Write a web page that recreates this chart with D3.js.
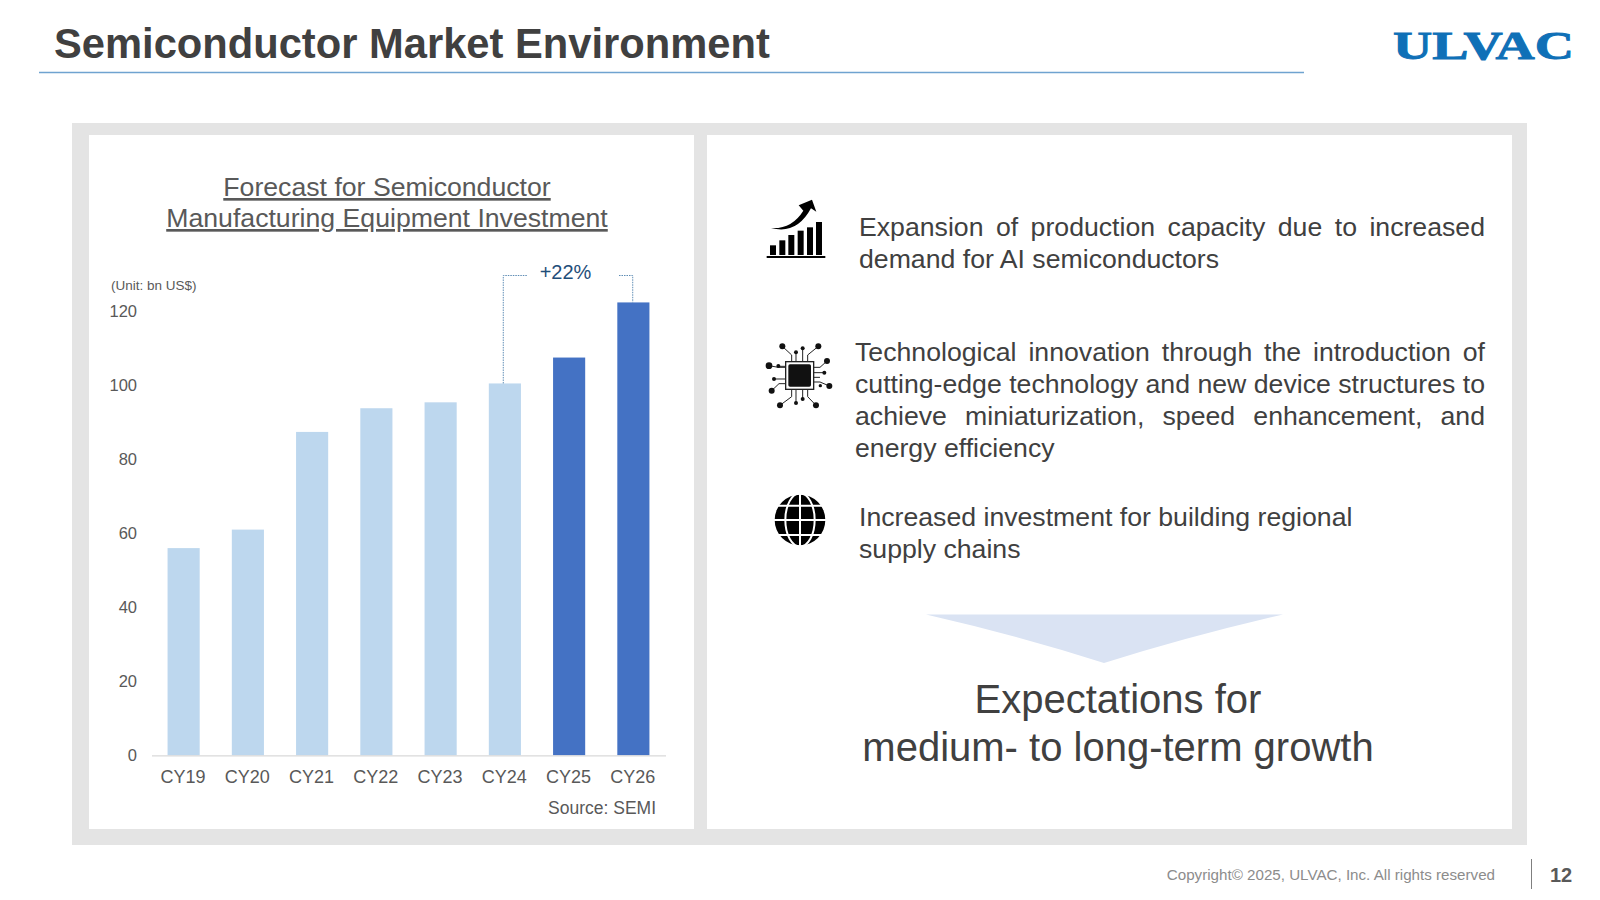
<!DOCTYPE html>
<html>
<head>
<meta charset="utf-8">
<script src="https://cdn.jsdelivr.net/npm/d3@7"></script>
<style>
  html, body { margin: 0; padding: 0; background: #fff; }
  svg { display: block; }
  text { font-family: "Liberation Sans", Arial, sans-serif; fill: #404040; }
</style>
</head>
<body>
<svg id="slide" width="1600" height="900"></svg>
<script>
// chart values
const years = ["CY19", "CY20", "CY21", "CY22", "CY23", "CY24", "CY25", "CY26"];
const investment = [56, 61, 87.4, 93.8, 95.4, 100.5, 107.5, 122.4];
const forecastYears = ["CY25", "CY26"];
const yTicks = [0, 20, 40, 60, 80, 100, 120];

const chartTitle = ["Forecast for Semiconductor", "Manufacturing Equipment Investment"];
const para1 = ["Expansion of production capacity due to increased", "demand for AI semiconductors"];
const para2 = [
  "Technological innovation through the introduction of",
  "cutting-edge technology and new device structures to",
  "achieve miniaturization, speed enhancement, and",
  "energy efficiency"
];
const para3 = ["Increased investment for building regional", "supply chains"];
const conclusion = ["Expectations for", "medium- to long-term growth"];

let svg = d3.select("#slide");

// header
svg.append("text").attr("x", 54).attr("y", 57.5)
  .attr("font-size", 41.7).attr("font-weight", "bold")
  .text("Semiconductor Market Environment");
svg.append("line").attr("x1", 39).attr("x2", 1304).attr("y1", 72.5).attr("y2", 72.5)
  .attr("stroke", "#6fa3d0").attr("stroke-width", 1.5);
svg.append("text").attr("x", 1393).attr("y", 58.5)
  .attr("textLength", 181).attr("lengthAdjust", "spacingAndGlyphs")
  .attr("font-size", 41).attr("font-weight", "bold")
  .style("font-family", '"Liberation Serif", serif').style("fill", "#0f70b7")
  .style("stroke", "#0f70b7").style("stroke-width", 0.9)
  .text("ULVAC");

// panels
svg.append("rect").attr("x", 72).attr("y", 123).attr("width", 1455).attr("height", 722).attr("fill", "#e4e4e4");
svg.append("rect").attr("x", 89).attr("y", 135).attr("width", 605).attr("height", 694).attr("fill", "#fff");
svg.append("rect").attr("x", 707).attr("y", 135).attr("width", 805).attr("height", 694).attr("fill", "#fff");

// chart
let x = d3.scaleBand().domain(years).range([151.5, 665.5]).paddingInner(0.5).paddingOuter(0.25);
let y = d3.scaleLinear().domain([0, 120]).range([755.3, 311.3]);

svg.append("g").selectAll("rect").data(years).join("rect")
  .attr("x", d => x(d))
  .attr("width", x.bandwidth())
  .attr("y", (d, i) => y(investment[i]))
  .attr("height", (d, i) => y(0) - y(investment[i]))
  .attr("fill", d => forecastYears.includes(d) ? "#4472c4" : "#bdd7ee");

let xAxis = svg.append("g").attr("transform", `translate(0,${y(0)})`)
  .call(d3.axisBottom(x).tickSize(0).tickPadding(15));
xAxis.select(".domain").attr("stroke", "#d9d9d9").attr("stroke-width", 1.2);
xAxis.selectAll("text").attr("font-size", 18).attr("dx", -0.7).style("font-family", '"Liberation Sans"').style("fill", "#595959");

let yAxis = svg.append("g").attr("transform", "translate(137,0)")
  .call(d3.axisLeft(y).tickValues(yTicks).tickSize(0).tickPadding(0));
yAxis.select(".domain").remove();
yAxis.selectAll("text").attr("font-size", 16.5).style("font-family", '"Liberation Sans"').style("fill", "#595959");

svg.append("text").attr("x", 111).attr("y", 290).attr("font-size", 13.5).style("fill", "#595959").text("(Unit: bn US$)");
svg.append("text").attr("x", 656).attr("y", 814).attr("font-size", 17.5).attr("text-anchor", "end").style("fill", "#595959").text("Source: SEMI");

chartTitle.forEach((t, i) => {
  svg.append("text").attr("x", 387).attr("y", 196 + i * 31)
    .attr("font-size", 26.67).attr("text-anchor", "middle")
    .style("fill", "#595959").style("text-decoration", "underline").text(t);
});

// +22% bracket
let xLeft = x("CY24") + x.bandwidth() * 0.45;
let xRight = x("CY26") + x.bandwidth() * 0.48;
let bracketY = 275.5;
let bracket = d3.line();
[
  [[xLeft, y(investment[5])], [xLeft, bracketY], [527, bracketY]],
  [[619, bracketY], [xRight, bracketY], [xRight, y(investment[7])]]
].forEach(pts => {
  svg.append("path").attr("d", bracket(pts)).attr("fill", "none")
    .attr("stroke", "#5f8db5").attr("stroke-width", 1).attr("stroke-dasharray", "1.5 1");
});
svg.append("text").attr("x", 565.5).attr("y", 279).attr("font-size", 20).attr("text-anchor", "middle")
  .style("fill", "#1f4e79").text("+22%");

// right hand text, justified lines get extra word spacing
function paragraph(lines, left, right, baselines, justified) {
  lines.forEach((t, i) => {
    let el = svg.append("text").attr("x", left).attr("y", baselines[i]).attr("font-size", 26.67).text(t);
    if (justified[i]) {
      let gap = right - left - el.node().getComputedTextLength();
      el.attr("word-spacing", gap / (t.split(" ").length - 1));
    }
  });
}
paragraph(para1, 859, 1485, [236, 268], [true, false]);
paragraph(para2, 855, 1485, [361, 393, 425, 457], [true, true, true, false]);
paragraph(para3, 859, 1485, [526, 558], [false, false]);

// down arrow
svg.append("path").attr("d", "M926,614.5 L1283,614.5 Q1190,636 1104,663 Q1020,636 926,614.5 Z").attr("fill", "#dae3f3");

conclusion.forEach((t, i) => {
  svg.append("text").attr("x", 1118).attr("y", 713 + i * 48)
    .attr("font-size", 40).attr("text-anchor", "middle").text(t);
});

// footer
svg.append("text").attr("x", 1495).attr("y", 880).attr("font-size", 15.17).attr("text-anchor", "end")
  .style("fill", "#8c8c8c").text("Copyright© 2025, ULVAC, Inc. All rights reserved");
svg.append("line").attr("x1", 1531.5).attr("x2", 1531.5).attr("y1", 859).attr("y2", 889)
  .attr("stroke", "#7f7f7f").attr("stroke-width", 1);
svg.append("text").attr("x", 1550).attr("y", 882).attr("font-size", 20).attr("font-weight", "bold")
  .style("fill", "#595959").text("12");

// growth icon, drawn in the 3x zoom coordinates
let growth = svg.append("g").attr("transform", "translate(750,190) scale(0.3333)");
[[60, 166], [88, 151], [115, 135], [143, 122], [171, 112], [198, 96]].forEach(b => {
  growth.append("rect").attr("x", b[0]).attr("y", b[1]).attr("width", 18).attr("height", 195 - b[1]).attr("fill", "#000");
});
growth.append("rect").attr("x", 50).attr("y", 198).attr("width", 176).attr("height", 6).attr("fill", "#000");
growth.append("path").attr("d", "M63,114 Q125,118 160,62 L146,46 L186,29 L199,65 L183,55 Q140,135 63,114 Z").attr("fill", "#000");

// chip icon
let chip = svg.append("g").attr("transform", "translate(755,335) scale(0.3333)");
let traces = [
  "M110,80 V60 L82,34", "M123,80 V52", "M143,80 V40", "M158,80 V60 L190,34",
  "M176,97 H195 L216,78", "M176,113 H208", "M176,127 H195", "M176,141 H195 L223,153",
  "M92,97 H70 L42,92", "M92,94 H70", "M92,132 H57", "M92,146 H72 L50,167",
  "M110,163 V185 L75,211", "M123,163 V204", "M143,163 V192", "M158,163 V185 L183,211"
];
traces.forEach(d => {
  chip.append("path").attr("d", d).attr("fill", "none").attr("stroke", "#222").attr("stroke-width", 3);
});
[[82, 34, 9], [123, 52, 6], [143, 40, 6], [190, 34, 9], [216, 78, 9], [208, 113, 6],
 [223, 153, 9], [196, 152, 5], [42, 92, 10], [70, 93, 6], [57, 132, 6], [50, 167, 9],
 [75, 211, 9], [123, 204, 6], [143, 192, 6], [183, 211, 9]].forEach(c => {
  chip.append("circle").attr("cx", c[0]).attr("cy", c[1]).attr("r", c[2]).attr("fill", "#111");
});
chip.append("rect").attr("x", 92).attr("y", 80).attr("width", 84).attr("height", 83).attr("fill", "#fff").attr("stroke", "#222").attr("stroke-width", 4);
chip.append("rect").attr("x", 100).attr("y", 88).attr("width", 68).attr("height", 67).attr("rx", 5).attr("fill", "#111");

// globe icon
let globe = svg.append("g").attr("transform", "translate(760,485) scale(0.3333)");
globe.append("circle").attr("cx", 120).attr("cy", 105).attr("r", 76).attr("fill", "#000");
let globeLines = globe.append("g").attr("fill", "none").attr("stroke", "#fff").attr("stroke-width", 6);
globeLines.append("line").attr("x1", 120).attr("x2", 120).attr("y1", 25).attr("y2", 185);
globeLines.append("line").attr("x1", 40).attr("x2", 200).attr("y1", 105).attr("y2", 105);
globeLines.append("ellipse").attr("cx", 120).attr("cy", 105).attr("rx", 44).attr("ry", 80);
globeLines.append("path").attr("d", "M52,62 H188 M52,150 H188");
</script>
</body>
</html>
